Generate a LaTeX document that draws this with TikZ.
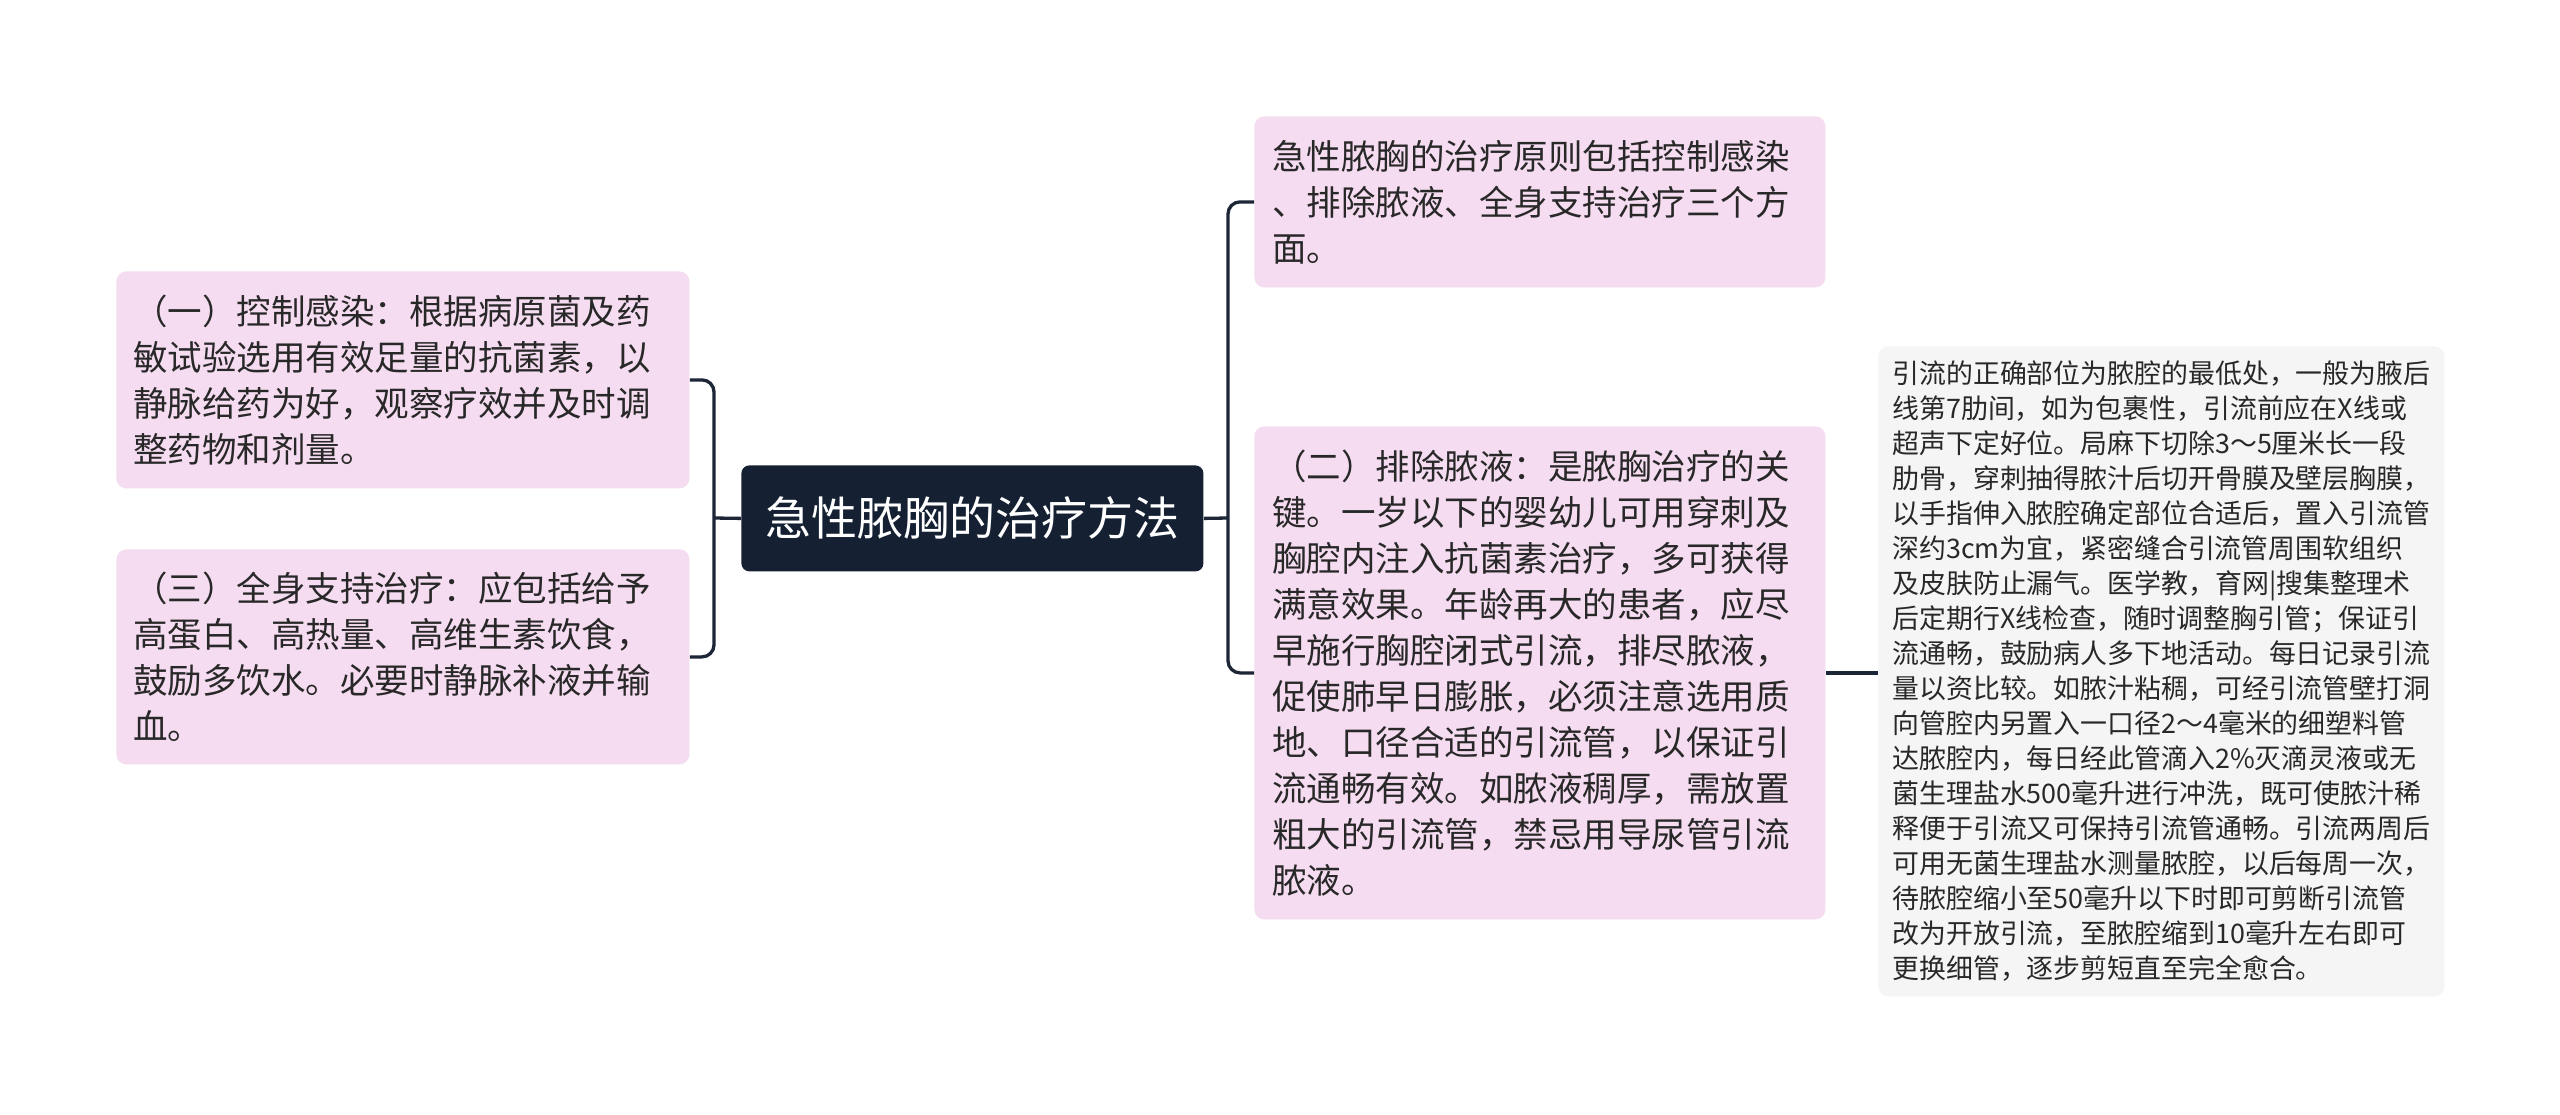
\documentclass[tikz,border=0pt]{standalone}
\usepackage{fontspec}
\newfontfamily\cjk{Noto Sans CJK SC}
\definecolor{pinkfill}{RGB}{245,220,240}
\definecolor{grayfill}{RGB}{245,245,245}
\definecolor{rootfill}{RGB}{21,33,51}
\definecolor{linecol}{RGB}{28,38,54}
\definecolor{txt}{RGB}{40,40,40}
\tikzset{
  pinkbox/.style={draw=none, fill=pinkfill, rounded corners=5pt, anchor=north west,
    text=txt, align=left, inner ysep=0pt,
    font=\cjk\fontsize{17.25pt}{23pt}\selectfont},
  graybox/.style={draw=none, fill=grayfill, rounded corners=5pt, anchor=north west,
    text=txt, align=left, inner ysep=0pt,
    font=\cjk\fontsize{13.45pt}{17.5pt}\selectfont},
  rootbox/.style={draw=none, fill=rootfill, rounded corners=4pt, anchor=north west,
    text=white, align=center, inner sep=0pt,
    font=\cjk\fontsize{23pt}{28pt}\selectfont},
  conn/.style={draw=linecol, line width=1.65pt, rounded corners=6pt}
}
\begin{document}
\begin{tikzpicture}[x=0.5pt,y=-0.5pt]
\useasboundingbox (0,0) rectangle (2560,1114);
\fill[white] (0,0) rectangle (2560,1114);

\node[rootbox, minimum width=231pt, minimum height=53pt] (root) at (741,465) {急性脓胸的治疗方法};

\node[pinkbox, minimum width=286.5pt, minimum height=108.5pt, text width=269.5pt, inner xsep=8.5pt] (n1) at (116,271)
{（一）控制感染：根据病原菌及药\\敏试验选用有效足量的抗菌素，以\\静脉给药为好，观察疗效并及时调\\整药物和剂量。};

\node[pinkbox, minimum width=286.5pt, minimum height=107.5pt, text width=269.5pt, inner xsep=8.5pt] (n3) at (116,549)
{（三）全身支持治疗：应包括给予\\高蛋白、高热量、高维生素饮食，\\鼓励多饮水。必要时静脉补液并输\\血。};

\node[pinkbox, minimum width=285.5pt, minimum height=85.5pt, text width=267.5pt, inner xsep=9pt] (rt) at (1254,116)
{急性脓胸的治疗原则包括控制感染\\、排除脓液、全身支持治疗三个方\\面。};

\node[pinkbox, minimum width=285.5pt, minimum height=246.5pt, text width=267.5pt, inner xsep=9pt] (n2) at (1254,426)
{（二）排除脓液：是脓胸治疗的关\\键。一岁以下的婴幼儿可用穿刺及\\胸腔内注入抗菌素治疗，多可获得\\满意效果。年龄再大的患者，应尽\\早施行胸腔闭式引流，排尽脓液，\\促使肺早日膨胀，必须注意选用质\\地、口径合适的引流管，以保证引\\流通畅有效。如脓液稠厚，需放置\\粗大的引流管，禁忌用导尿管引流\\脓液。};

\node[graybox, minimum width=283pt, minimum height=325pt, text width=269pt, inner xsep=7pt] (fr) at (1878,346)
{引流的正确部位为脓腔的最低处，一般为腋后\\线第7肋间，如为包裹性，引流前应在X线或\\超声下定好位。局麻下切除3～5厘米长一段\\肋骨，穿刺抽得脓汁后切开骨膜及壁层胸膜，\\以手指伸入脓腔确定部位合适后，置入引流管\\深约3cm为宜，紧密缝合引流管周围软组织\\及皮肤防止漏气。医学教，育网|搜集整理术\\后定期行X线检查，随时调整胸引管；保证引\\流通畅，鼓励病人多下地活动。每日记录引流\\量以资比较。如脓汁粘稠，可经引流管壁打洞\\向管腔内另置入一口径2～4毫米的细塑料管\\达脓腔内，每日经此管滴入2\%灭滴灵液或无\\菌生理盐水500毫升进行冲洗，既可使脓汁稀\\释便于引流又可保持引流管通畅。引流两周后\\可用无菌生理盐水测量脓腔，以后每周一次，\\待脓腔缩小至50毫升以下时即可剪断引流管\\改为开放引流，至脓腔缩到10毫升左右即可\\更换细管，逐步剪短直至完全愈合。};

\coordinate (lj) at (714,518);
\coordinate (rj) at (1228,518);

\draw[conn] (root.west) -- (lj);
\draw[conn] (n1.east) -| (lj) |- (n3.east);
\draw[conn] (root.east) -- (rj);
\draw[conn] (rt.west) -| (rj) |- (n2.west);
\draw[conn] (n2.east) -- (n2.east -| fr.west);
\end{tikzpicture}
\end{document}
